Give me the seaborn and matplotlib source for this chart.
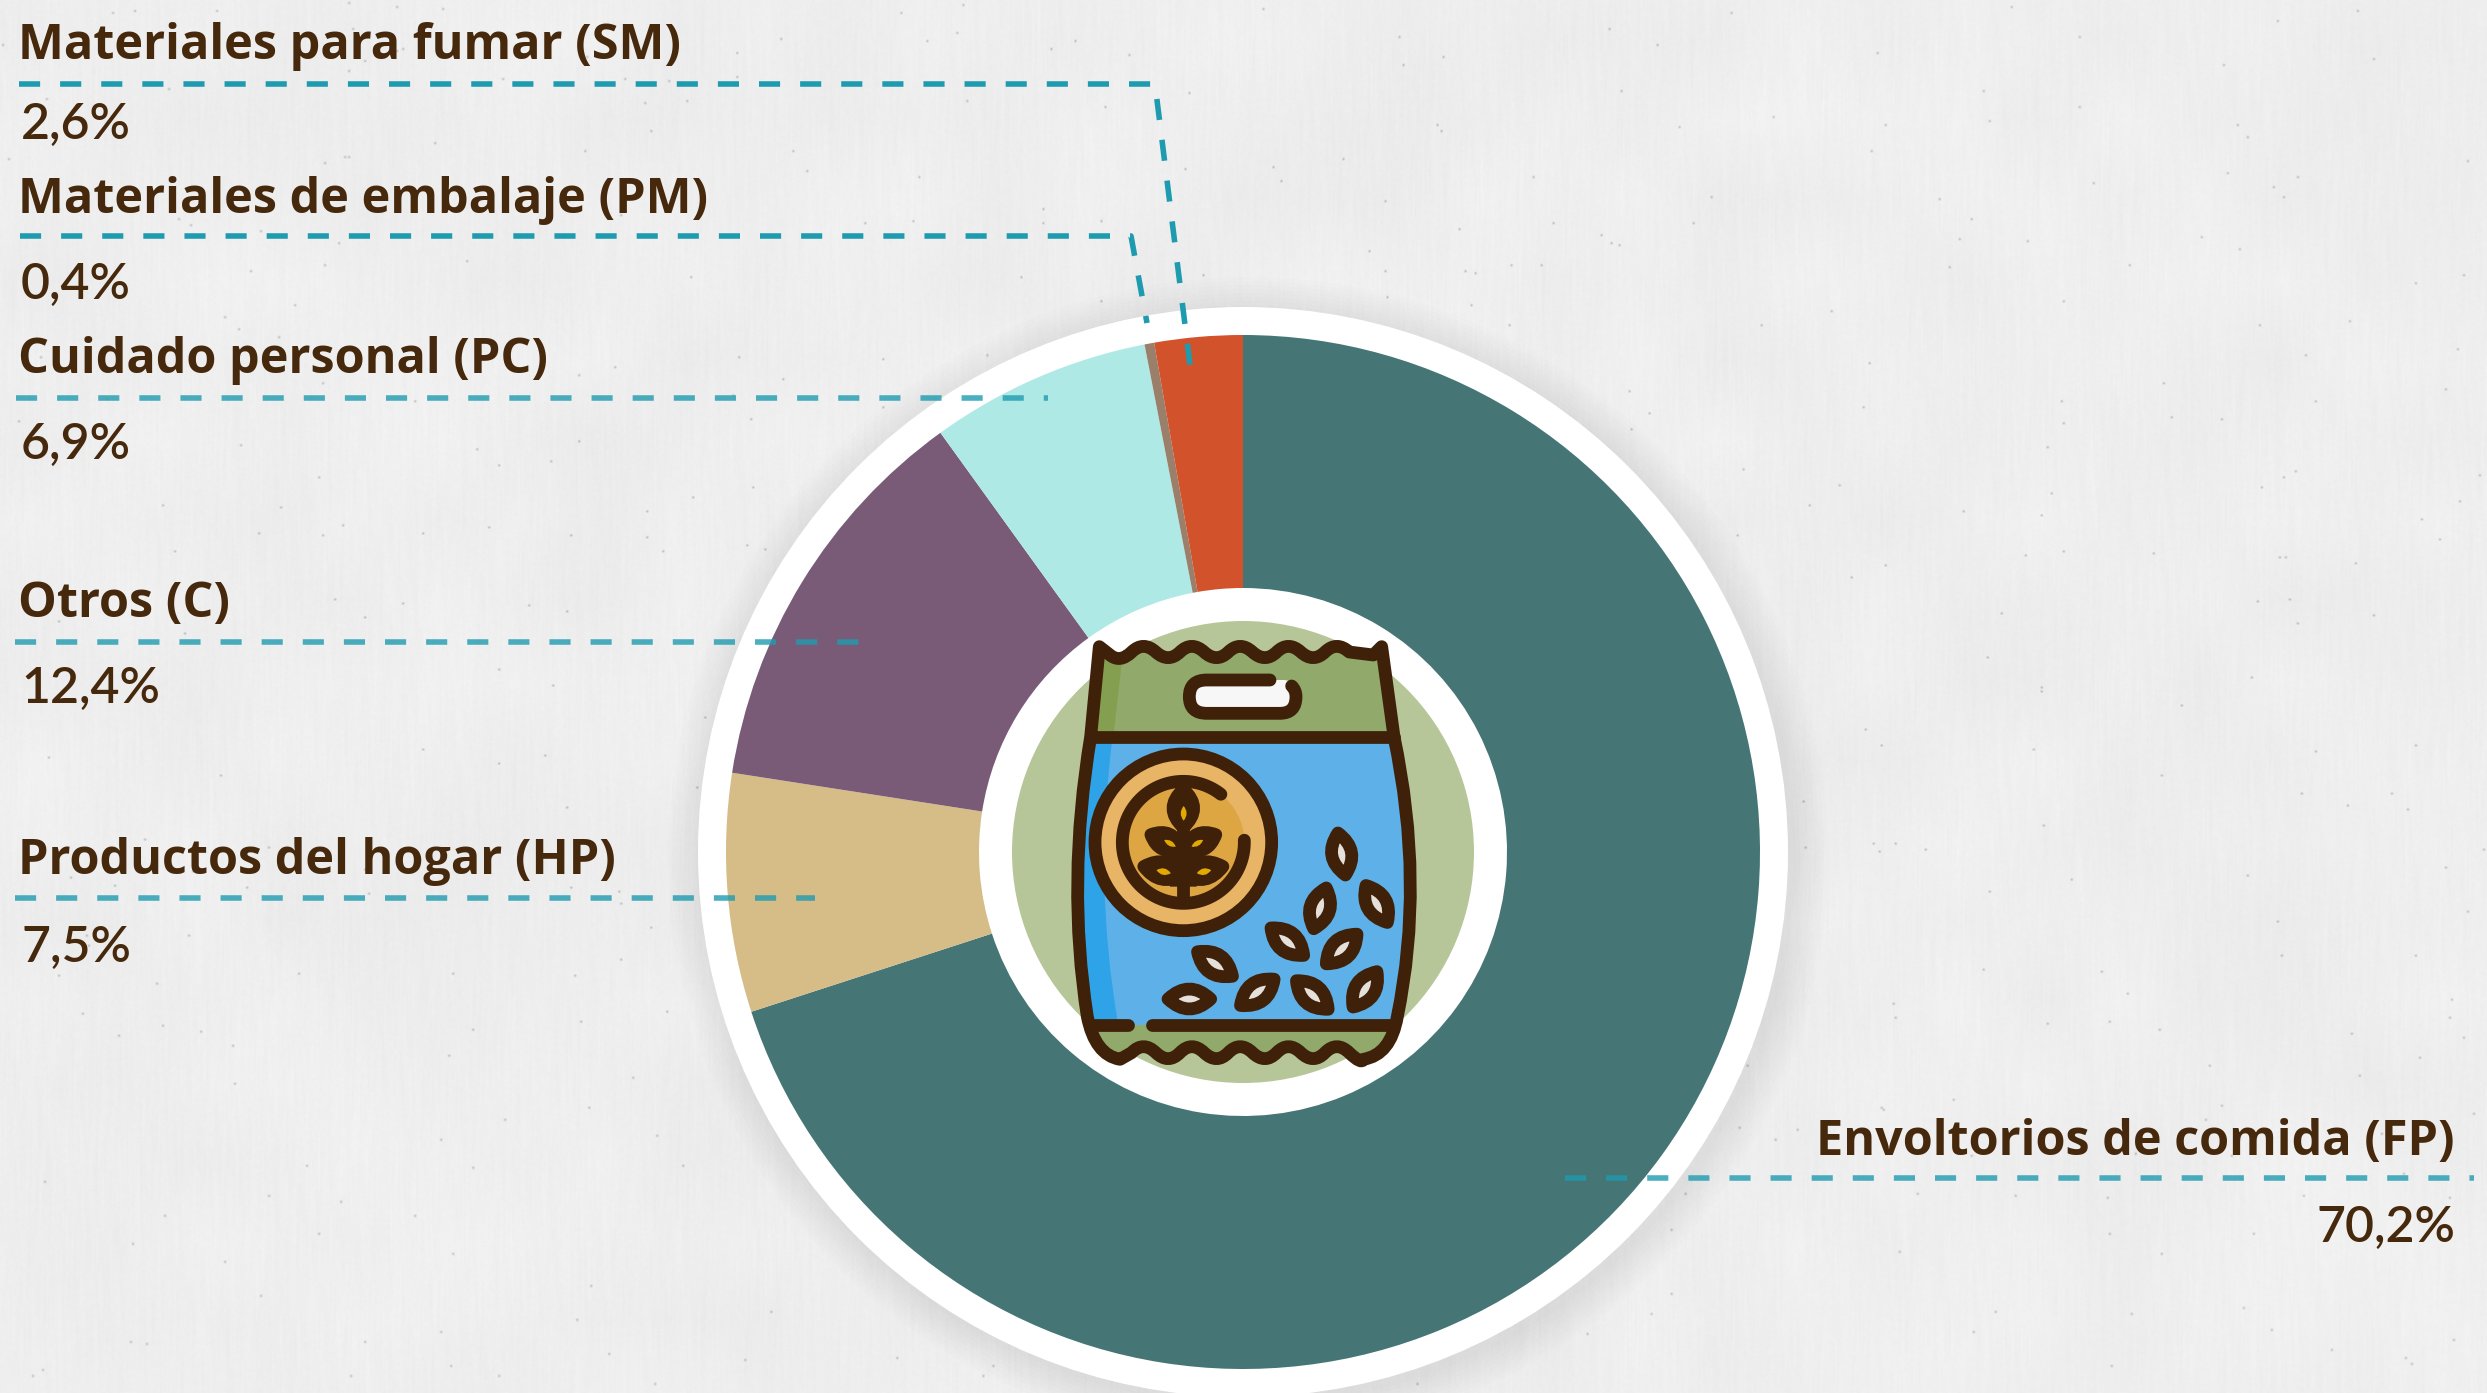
import numpy as np
import matplotlib
matplotlib.use('Agg')
import matplotlib.pyplot as plt
import seaborn as sns
from matplotlib.path import Path
from matplotlib.patches import PathPatch, Circle

# Data
categories = ['Envoltorios de comida (FP)', 'Productos del hogar (HP)', 'Otros (C)',
              'Cuidado personal (PC)', 'Materiales de embalaje (PM)', 'Materiales para fumar (SM)']
values = [70.2, 7.5, 12.4, 6.9, 0.4, 2.6]
# the slices as they are drawn in the picture differ a little from the printed labels
drawn_shares = [70.0, 7.45, 12.6, 6.9, 0.3, 2.75]
slice_colors = ['#457575', '#d6bd88', '#795b78', '#aee9e5', '#9a7f6b', '#d2522c']

W, H = 2487, 1393
CX, CY, R_OUT, R_HOLE, R_RING, R_GREEN = 1243, 852, 517, 264, 545, 231
BROWN = '#46290c'
TEAL = '#1f9bb0'
OUTLINE = '#3f2109'

sns.set_theme(style='white')
plt.rcParams['font.family'] = ['Open Sans', 'DejaVu Sans']
palette = sns.color_palette(slice_colors)

fig = plt.figure(figsize=(W / 100, H / 100), dpi=100)


def full_axes(z):
    ax = fig.add_axes([0, 0, 1, 1], zorder=z)
    ax.set_xlim(0, W)
    ax.set_ylim(H, 0)
    ax.axis('off')
    return ax


def hash2d(x, y):
    return np.modf(np.abs(np.sin(x * 12.9898 + y * 78.233) * 43758.5453))[0]


# background paper, made from a fixed hash so that it is the same each run
bg = full_axes(0)
yy, xx = np.mgrid[0:H // 2, 0:W // 2]
grain = hash2d(xx, yy) - 0.5
kernel = np.ones(25) / 25
streak = np.apply_along_axis(lambda c: np.convolve(c, kernel, mode='same'), 0, grain)
cx_b, cy_b = np.mgrid[0:H // 2 // 40 + 2, 0:W // 2 // 40 + 2][::-1]
blotch_small = hash2d(cx_b + 3.1, cy_b + 7.7) - 0.5
blotch = np.kron(blotch_small, np.ones((40, 40)))[:H // 2, :W // 2]
box = np.ones(41) / 41
blotch = np.apply_along_axis(lambda c: np.convolve(c, box, mode='same'), 0, blotch)
blotch = np.apply_along_axis(lambda c: np.convolve(c, box, mode='same'), 1, blotch)
specks = (hash2d(xx + 0.37, yy + 0.91) > 0.9994) * -55.0
paper = 238 + 13 * streak + 2.5 * grain + 6 * blotch + specks
bg.imshow(paper, cmap='gray', vmin=0, vmax=255, extent=(0, W, H, 0), aspect='auto', interpolation='bilinear')
bg.set_xlim(0, W)
bg.set_ylim(H, 0)

# soft shadow and white ring
for r in range(580, 545, -4):
    bg.add_patch(Circle((CX + 5, CY + 5), r, color='black', alpha=0.008, lw=0))
bg.add_patch(Circle((CX, CY), R_RING, color='white', lw=0))
bg.add_patch(Circle((CX, CY), R_GREEN, color='#b6c698', lw=0))

# donut
ax_pie = fig.add_axes([(CX - R_OUT) / W, 1 - (CY + R_OUT) / H, 2 * R_OUT / W, 2 * R_OUT / H], zorder=1)
ax_pie.pie(drawn_shares, colors=palette, startangle=90, counterclock=False, radius=1,
           wedgeprops={'width': 1 - R_HOLE / R_OUT, 'linewidth': 0})
ax_pie.set_xlim(-1, 1)
ax_pie.set_ylim(-1, 1)
ax_pie.patch.set_alpha(0)

top = full_axes(2)
top.patch.set_alpha(0)


# icon: drawn in the coordinates of a 3x crop starting at (1000, 600)
def ic(p):
    return (1000 + p[0] / 3, 600 + p[1] / 3)


def shape(points, codes, fc='none', ec='none', lw=0, z=3):
    patch = PathPatch(Path([ic(p) for p in points], codes), facecolor=fc, edgecolor=ec,
                      linewidth=lw, capstyle='round', joinstyle='round', zorder=z)
    top.add_patch(patch)


def wave(ctrl):
    # smooth line through the midpoints of alternating crests and troughs
    pts, codes = [], []
    for i in range(len(ctrl) - 1):
        mid = ((ctrl[i][0] + ctrl[i + 1][0]) / 2, (ctrl[i][1] + ctrl[i + 1][1]) / 2)
        pts += [ctrl[i], mid]
        codes += [Path.CURVE3, Path.CURVE3]
    return pts, codes


def lens(cx, cy, length, width, angle, fc, ec='none', lw=0, z=5):
    a = np.radians(angle)
    ux, uy = np.cos(a), np.sin(a)
    tip1 = (cx - ux * length / 2, cy - uy * length / 2)
    tip2 = (cx + ux * length / 2, cy + uy * length / 2)
    c1 = (cx - uy * width, cy + ux * width)
    c2 = (cx + uy * width, cy - ux * width)
    shape([tip1, c1, tip2, c2, tip1, tip1],
          [Path.MOVETO, Path.CURVE3, Path.CURVE3, Path.CURVE3, Path.CURVE3, Path.CLOSEPOLY],
          fc=fc, ec=ec, lw=lw, z=z)


STROKE = 9.2
top_x = [360, 430, 505, 575, 650, 720, 795, 865, 940, 1010, 1085]
top_ctrl = [(x, 190 if i % 2 == 0 else 122) for i, x in enumerate(top_x)]
bot_x = top_x[::-1]
bot_ctrl = [(x, 1394 if i % 2 == 0 else 1322) for i, x in enumerate(bot_x)]
L, C3 = Path.LINETO, Path.CURVE3

wp_t, wc_t = wave(top_ctrl)
wp_b, wc_b = wave(bot_ctrl)
outline_pts = [(298, 140), (330, 165)] + wp_t + [(1120, 165), (1145, 140), (1182, 410),
               (1275, 850), (1192, 1250), (1172, 1365), (1090, 1378)] + wp_b + \
              [(360, 1378), (285, 1365), (262, 1250), (199, 850), (272, 410), (298, 140)]
outline_codes = [Path.MOVETO, L] + wc_t + [L, L, L, C3, C3, C3, C3] + wc_b + [L, C3, C3, C3, C3, Path.CLOSEPOLY]
shape(outline_pts, outline_codes, fc='#91a96b', z=3)

# darker strips and blue panel
shape([(298, 160), (365, 190), (340, 410), (272, 410), (298, 160)], [Path.MOVETO, L, L, L, Path.CLOSEPOLY], fc='#859f50', z=3.1)
shape([(272, 410), (199, 850), (262, 1275), (1190, 1275), (1275, 850), (1182, 410), (272, 410)],
      [Path.MOVETO, C3, C3, L, C3, C3, Path.CLOSEPOLY], fc='#5eb1e8', z=3.2)
shape([(272, 410), (199, 850), (262, 1275), (355, 1275), (280, 850), (338, 410), (272, 410)],
      [Path.MOVETO, C3, C3, L, C3, C3, Path.CLOSEPOLY], fc='#2fa3e8', z=3.3)
shape(outline_pts, outline_codes, ec=OUTLINE, lw=STROKE, z=4)
shape([(272, 410), (1182, 410)], [Path.MOVETO, L], ec=OUTLINE, lw=STROKE, z=4)
shape([(285, 1275), (385, 1275)], [Path.MOVETO, L], ec=OUTLINE, lw=STROKE, z=4)
shape([(455, 1275), (1170, 1275)], [Path.MOVETO, L], ec=OUTLINE, lw=STROKE, z=4)

# handle
shape([(620, 240), (850, 240), (888, 240), (888, 290), (888, 340), (840, 340), (620, 340), (568, 340), (568, 290), (568, 240), (620, 240)],
      [Path.MOVETO, L, C3, C3, C3, C3, L, C3, C3, C3, C3], fc='#f7f7f7', z=3.5)
shape([(810, 240), (620, 240), (568, 240), (568, 290), (568, 340), (620, 340), (840, 340), (888, 340), (888, 290), (888, 270), (875, 258)],
      [Path.MOVETO, L, C3, C3, C3, C3, L, C3, C3, C3, C3], ec=OUTLINE, lw=STROKE, z=4)

# round badge
BADGE = (550, 727)
top.add_patch(Circle(ic(BADGE), 265 / 3, facecolor='#e8b465', edgecolor=OUTLINE, linewidth=STROKE, zorder=4))
top.add_patch(Circle(ic(BADGE), 183 / 3, facecolor='#dea643', edgecolor='none', zorder=4.1))
t = np.radians(np.linspace(-2, 308, 120))
arc = [(BADGE[0] + 183 * np.cos(a), BADGE[1] + 183 * np.sin(a)) for a in t]
shape(arc, [Path.MOVETO] + [L] * (len(arc) - 1), ec=OUTLINE, lw=STROKE, z=4.2)
for cx, cy, ln, wd, ang in [(550, 625, 115, 62, 90), (498, 725, 100, 50, 25), (602, 725, 100, 50, -25),
                            (490, 812, 120, 52, 12), (610, 812, 120, 52, -12)]:
    lens(cx, cy, ln, wd, ang, OUTLINE, ec=OUTLINE, lw=STROKE, z=4.3)
shape([(550, 620), (550, 905)], [Path.MOVETO, L], ec=OUTLINE, lw=STROKE, z=4.3)
shape([(505, 700), (595, 700), (600, 800), (590, 860), (510, 860), (500, 800), (505, 700)],
      [Path.MOVETO, L, L, L, L, L, Path.CLOSEPOLY], fc=OUTLINE, z=4.3)
for cx, cy, ln, wd, ang in [(551, 640, 44, 18, 90), (510, 730, 40, 16, 30), (592, 730, 40, 16, -30),
                            (491, 815, 44, 20, 12), (612, 815, 44, 20, -12)]:
    lens(cx, cy, ln, wd, ang, '#e2a900', z=4.5)

# seeds
seeds = [(1025, 762, 80), (960, 925, 107), (1130, 912, 60), (862, 1025, 40), (1025, 1047, 136),
         (645, 1092, 35), (772, 1177, 142), (937, 1185, 42), (1095, 1168, 124), (568, 1197, 0)]
for cx, cy, ang in seeds:
    lens(cx, cy, 128, 60, ang, '#e6e0da', ec=OUTLINE, lw=STROKE)

# leader lines
leaders = [
    ([19, 1155, 1190], [84, 84, 365], 1.0),
    ([20, 1131, 1147], [236, 236, 323], 1.0),
    ([16, 1048], [398, 398], 0.8),
    ([15, 860], [642, 642], 0.8),
    ([15, 815], [898, 898], 0.8),
    ([1565, 2474], [1178, 1178], 0.8),
]
for xs, ys, alpha in leaders:
    top.plot(xs, ys, color=TEAL, alpha=alpha, lw=4, dashes=(3.8, 3.6), dash_capstyle='butt', zorder=6)

# labels
name_fs, pct_fs = 35, 36
left_labels = [
    (5, 18, 59, 21, 139),
    (4, 18, 213, 21, 299),
    (3, 18, 373, 21, 459),
    (2, 18, 617, 21, 703),
    (1, 18, 874, 21, 962),
]


def pct(v):
    return f'{v:.1f}'.replace('.', ',') + '%'


for idx, x1, y1, x2, y2 in left_labels:
    top.text(x1, y1, categories[idx], color=BROWN, fontsize=name_fs, fontweight='bold', va='baseline', zorder=7)
    top.text(x2, y2, pct(values[idx]), color=BROWN, fontsize=pct_fs, family=['Lato', 'DejaVu Sans'], fontweight='semibold', va='baseline', zorder=7)
top.text(2455, 1155, categories[0], color=BROWN, fontsize=name_fs, fontweight='bold', ha='right', va='baseline', zorder=7)
top.text(2455, 1242, pct(values[0]), color=BROWN, fontsize=pct_fs, family=['Lato', 'DejaVu Sans'], fontweight='semibold', ha='right', va='baseline', zorder=7)

fig.savefig('out.png', dpi=100)
